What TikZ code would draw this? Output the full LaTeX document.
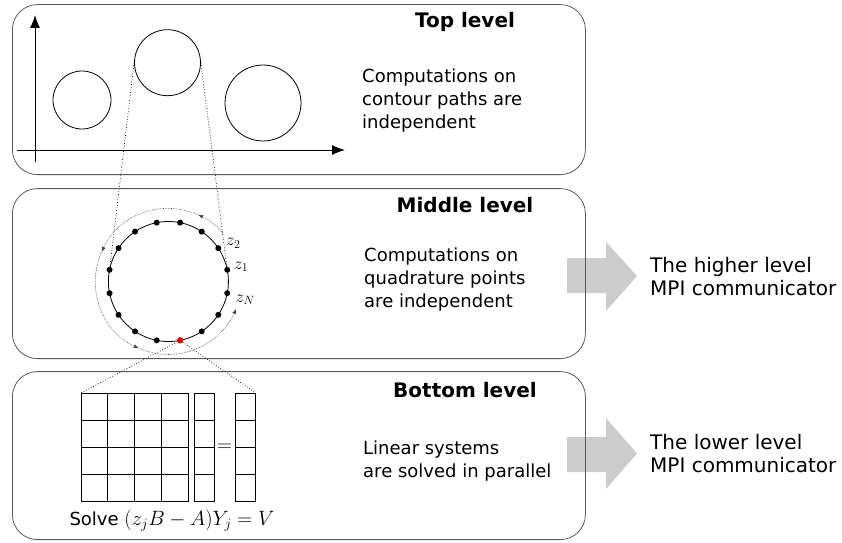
\documentclass[tikz,border=0pt]{standalone}
\usepackage{fontspec}
\setmainfont{DejaVu Sans}
\usetikzlibrary{arrows.meta,calc}

\begin{document}
\begin{tikzpicture}[
  x=1pt,y=1pt,
  level/.style={draw=black!65,line width=0.8pt,rounded corners=25pt,minimum width=573pt,inner sep=0pt,anchor=south west},
  lvltitle/.style={font=\fontsize{20}{24}\selectfont\bfseries,inner sep=0pt},
  body/.style={font=\fontsize{18}{23}\selectfont,align=left,anchor=west,inner sep=0pt},
  comm/.style={font=\fontsize{20}{23}\selectfont,align=left,anchor=west,inner sep=0pt},
  axis/.style={-{Latex[length=13pt,width=10pt]},line width=1pt},
  contour/.style={draw,circle,line width=0.8pt,inner sep=0pt},
  qpt/.style={circle,fill,inner sep=0pt,minimum size=6pt},
  zoomline/.style={dotted,line width=0.7pt},
  orbit/.style={densely dotted,black!75,line width=0.6pt,-{Latex[length=5pt,width=4pt]}},
  zlab/.style={font=\fontsize{17.28}{17.28}\selectfont,inner sep=0pt},
  cellbox/.style={draw,line width=0.8pt,anchor=north west,inner sep=0pt,minimum height=108pt},
  bigarrow/.style={fill=black!20}]
\useasboundingbox (0,0) rectangle (842,542);

% ---------- gray arrows to the communicators (under the boxes) ----------
\fill[bigarrow] (567,249) -- (606,249) -- (606,231) -- (637,266) -- (606,300) -- (606,284) -- (567,284) -- cycle;
\fill[bigarrow] (567,70) -- (606,70) -- (606,53) -- (637,88.5) -- (606,124) -- (606,105) -- (567,105) -- cycle;
\node[comm] (hicomm) at (650,265.5) {The higher level\\MPI communicator};
\node[comm] (locomm) at (650,88.5) {The lower level\\MPI communicator};

% ---------- the three levels ----------
\node[level,minimum height=170pt] (toplvl) at (12,367) {};
\node[level,minimum height=170pt] (midlvl) at (12,183) {};
\node[level,minimum height=168pt] (botlvl) at (12,2) {};
\node[lvltitle] (toptitle) at (465,520) {Top level};
\node[lvltitle] (midtitle) at (465,337) {Middle level};
\node[lvltitle] (bottitle) at (465,152) {Bottom level};
\node[body] (toptext) at (362,441) {Computations on\\contour paths are\\independent};
\node[body] (midtext) at (364,262.5) {Computations on\\quadrature points\\are independent};
\node[body] (bottext) at (363,80.5) {Linear systems\\are solved in parallel};

% ---------- top level: contour paths in the plane ----------
\draw[axis] (35,380) -- (35,527);
\draw[axis] (17,392) -- (345,392);
\node[contour,minimum size=58pt] (c1) at (82,442) {};
\node[contour,minimum size=66pt] (c2) at (167.5,479.3) {};
\node[contour,minimum size=76pt] (c3) at (263,439) {};

% ---------- middle level: quadrature points on one contour ----------
\node[contour,minimum size=120pt] (quad) at (168.4,260.5) {};
\foreach \k in {1,...,16}
  \node[qpt] (q\k) at ($(quad.center)+({11.25+22.5*(\k-1)}:60)$) {};
\node[qpt,fill=red] (qred) at (q13) {};
\foreach \a/\b in {42/66,66/156,156/246,246/338}
  \draw[orbit] ($(quad.center)+(\a:73)$) arc[start angle=\a,end angle=\b,radius=73];
\node[zlab] (z2) at ($(q2)+(15,5)$) {$z_2$};
\node[zlab] (z1) at ($(q1)+(14,3)$) {$z_1$};
\node[zlab] (zN) at ($(q16)+(18,-6.5)$) {$z_N$};
\draw[zoomline] (c2.west) -- (q8);
\draw[zoomline] (c2.east) -- (q1);

% ---------- bottom level: one linear system ----------
\node[cellbox,minimum width=107pt] (amat) at (81,149) {};
\node[cellbox,minimum width=20pt] (yvec) at (194,149) {};
\node[cellbox,minimum width=20pt] (vvec) at (235,149) {};
\foreach \i in {1,2,3} {
  \draw[line width=0.8pt] ($(amat.north west)+(\i*26.75,0)$) -- ++(0,-108);
  \draw[line width=0.8pt] ($(amat.north west)+(0,-\i*27)$) -- ++(107,0);
  \draw[line width=0.8pt] ($(yvec.north west)+(0,-\i*27)$) -- ++(20,0);
  \draw[line width=0.8pt] ($(vvec.north west)+(0,-\i*27)$) -- ++(20,0);
}
\node[font=\fontsize{20.74}{22}\selectfont,inner sep=0pt] (eqsign) at (224.5,94) {$=$};
\node[font=\fontsize{18}{20}\selectfont,inner sep=0pt] (solve) at (172,21) {Solve {\fontsize{20.74}{22}\selectfont$(z_jB-A)Y_j=V$}};
\draw[zoomline] (qred) -- (amat.north west);
\draw[zoomline] (qred) -- (vvec.north east);
\end{tikzpicture}
\end{document}
